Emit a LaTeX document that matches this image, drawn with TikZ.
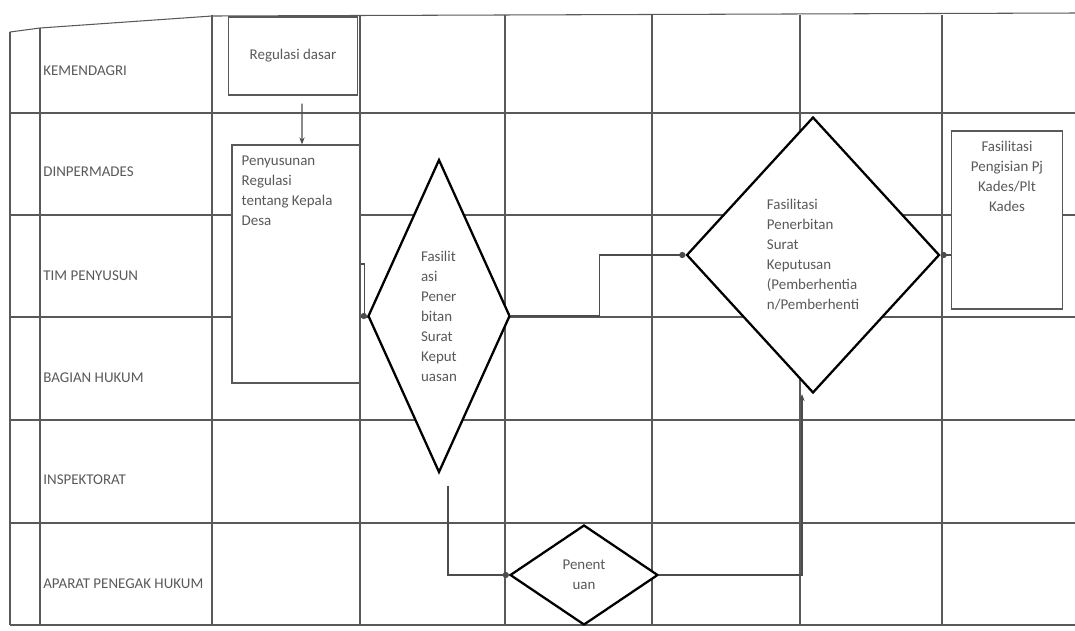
\documentclass[tikz,border=0pt]{standalone}
\usepackage{fontspec}
\setmainfont{Carlito}
\usetikzlibrary{shapes.geometric,arrows.meta}
\tikzset{
  lane/.style={draw=black!65, line width=0.6pt},
  txt/.style={font=\fontsize{8.5}{11.4}\selectfont, text=black!65},
  lbl/.style={txt, anchor=west, inner sep=0pt},
  actbox/.style={draw=black!65, line width=0.7pt, fill=white, inner sep=0pt, txt},
  dec/.style={diamond, draw=black, line width=1.3pt, fill=white, inner sep=0pt, txt, align=left},
  flow/.style={draw=black!70, line width=0.7pt},
}

\begin{document}
\begin{tikzpicture}[x=0.02cm, y=-0.02cm]
    \useasboundingbox (0,0) rectangle (1075,630);

    \draw[lane] (10,32) -- (40,28) -- (212,16) -- (1075,13);
    \foreach \y in {113,215,317,420,523,625}
      \draw[lane] (10,\y) -- (1075,\y);
    \draw[lane] (10,32) -- (10,625);
    \draw[lane] (40,28) -- (40,625);
    \foreach \x in {212,360,505,652,800,942}
      \draw[lane] (\x,15) -- (\x,625);

    \node[lbl] (kemendagri) at (43,71) {KEMENDAGRI};
    \node[lbl] (dinpermades) at (43,172) {DINPERMADES};
    \node[lbl] (timpenyusun) at (43,276) {TIM PENYUSUN};
    \node[lbl] (bagianhukum) at (43,378) {BAGIAN HUKUM};
    \node[lbl] (inspektorat) at (43,480) {INSPEKTORAT};
    \node[lbl] (aparat) at (43,584) {APARAT PENEGAK HUKUM};

    \node[actbox, minimum width=2.58cm, minimum height=1.56cm] (reg) at (293,56) {Regulasi dasar};
    \node[actbox, minimum width=2.56cm, minimum height=4.76cm,
      label={[txt, anchor=north west, align=left, inner sep=0pt, xshift=0.2cm, yshift=-0.22cm]north west:{Penyusunan\\Regulasi\\tentang Kepala\\Desa}}] (pen) at (296,264) {};
    \node[dec, aspect=0.4, minimum width=2.84cm, minimum height=6.26cm] (fas) at (439,316) {Fasilit\\asi\\Pener\\bitan\\Surat\\Keput\\uasan};
    \node[dec, minimum width=5.06cm, minimum height=5.52cm] (kep) at (813,255) {Fasilitasi\\Penerbitan\\Surat\\Keputusan\\(Pemberhentia\\n/Pemberhenti};
    \node[dec, align=center, minimum width=2.96cm, minimum height=2cm] (ptn) at (584,575) {Penent\\uan};
    \node[actbox, minimum width=2.22cm, minimum height=3.56cm,
      label={[txt, anchor=north, align=center, inner sep=0pt, yshift=-0.2cm]north:{Fasilitasi\\Pengisian Pj\\Kades/Plt\\Kades}}] (pj) at (1007,220) {};

    \draw[flow, -{Stealth[length=4pt,width=3pt]}] ([xshift=0.18cm,yshift=-0.16cm]reg.south) -- ([xshift=0.12cm]pen.north);
    \draw[flow, -{Circle[length=3.5pt]}] (pen.east) -- ++(4,0) |- (fas.west);
    \draw[flow, -{Circle[length=3.5pt]}] (fas.east) -- ++(88,0) |- (kep.west);
    \draw[flow, -{Circle[length=3.5pt]}] ([xshift=0.18cm,yshift=-0.24cm]fas.south) |- (ptn.west);
    \draw[flow, -{Stealth[length=4pt,width=3pt]}] (ptn.east) -| ([xshift=-0.22cm]kep.south);
    \draw[flow, {Circle[length=3.5pt]}-] (kep.east) -- (kep.east -| pj.west);
\end{tikzpicture}
\end{document}
